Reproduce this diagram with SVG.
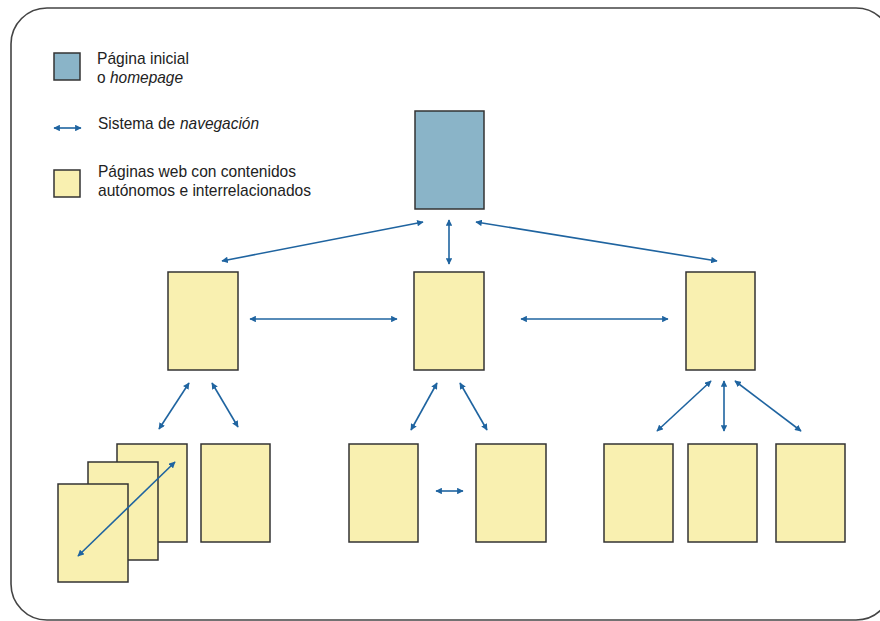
<svg xmlns="http://www.w3.org/2000/svg" width="880" height="621" viewBox="0 0 880 621">
<defs>
<marker id="ah" viewBox="0 0 10 10" refX="9" refY="5" markerWidth="7" markerHeight="6.5" orient="auto-start-reverse" markerUnits="userSpaceOnUse">
<path d="M0,0 L10,5 L0,10 z" fill="#1f64a0"/>
</marker>
<style>
.frame{fill:#ffffff;stroke:#444444;stroke-width:1.6}
.home{fill:#8ab4c8;stroke:#333333;stroke-width:1.5}
.page{fill:#f9f0b0;stroke:#333333;stroke-width:1.5}
.nav{stroke:#1f64a0;stroke-width:1.6;fill:none;marker-start:url(#ah);marker-end:url(#ah)}
.lbl{font-family:"Liberation Sans",Arial,sans-serif;font-size:17px;fill:#222222}
.it{font-style:italic}
</style>
</defs>
<rect class="frame" x="11" y="8" width="881" height="612" rx="36" ry="36"/>
<g id="legend">
<rect class="home" x="54" y="53" width="26" height="27"/>
<text class="lbl" x="97" y="64" textLength="92" lengthAdjust="spacingAndGlyphs">Página inicial</text>
<text class="lbl" x="97" y="83" textLength="8.6" lengthAdjust="spacingAndGlyphs">o</text>
<text class="lbl it" x="110" y="83" textLength="73" lengthAdjust="spacingAndGlyphs">homepage</text>
<line class="nav" x1="54" y1="128" x2="81" y2="128"/>
<text class="lbl" x="98" y="129" textLength="77" lengthAdjust="spacingAndGlyphs">Sistema de</text>
<text class="lbl it" x="180" y="129" textLength="79" lengthAdjust="spacingAndGlyphs">navegación</text>
<rect class="page" x="54" y="170" width="26" height="27"/>
<text class="lbl" x="98" y="177" textLength="198" lengthAdjust="spacingAndGlyphs">Páginas web con contenidos</text>
<text class="lbl" x="98" y="196" textLength="213" lengthAdjust="spacingAndGlyphs">autónomos e interrelacionados</text>
</g>
<g id="home"><rect class="home" x="415" y="111" width="69" height="98"/></g>
<g id="mid-left"><rect class="page" x="168" y="272" width="70" height="98"/></g>
<g id="mid-center"><rect class="page" x="414" y="272" width="70" height="98"/></g>
<g id="mid-right"><rect class="page" x="686" y="272" width="69" height="98"/></g>
<g id="stack">
<rect class="page" x="117" y="444" width="70" height="98"/>
<rect class="page" x="88" y="462" width="70" height="98"/>
<rect class="page" x="58" y="484" width="70" height="98"/>
</g>
<g id="leaf-l2"><rect class="page" x="201" y="444" width="69" height="98"/></g>
<g id="leaf-c1"><rect class="page" x="349" y="444" width="69" height="98"/></g>
<g id="leaf-c2"><rect class="page" x="476" y="444" width="70" height="98"/></g>
<g id="leaf-r1"><rect class="page" x="604" y="444" width="69" height="98"/></g>
<g id="leaf-r2"><rect class="page" x="688" y="444" width="69" height="98"/></g>
<g id="leaf-r3"><rect class="page" x="776" y="444" width="69" height="98"/></g>
<g id="connectors">
<line class="nav" x1="423" y1="222" x2="222" y2="261"/>
<line class="nav" x1="449" y1="220" x2="449" y2="264"/>
<line class="nav" x1="476" y1="222" x2="717" y2="261"/>
<line class="nav" x1="250" y1="319" x2="397" y2="319"/>
<line class="nav" x1="521" y1="319" x2="668" y2="319"/>
<line class="nav" x1="189" y1="383" x2="159" y2="429"/>
<line class="nav" x1="212" y1="383" x2="238" y2="427"/>
<line class="nav" x1="175" y1="462" x2="78" y2="556"/>
<line class="nav" x1="437" y1="383" x2="411" y2="430"/>
<line class="nav" x1="460" y1="383" x2="487" y2="430"/>
<line class="nav" x1="436" y1="491" x2="463" y2="491"/>
<line class="nav" x1="711" y1="381" x2="657" y2="431"/>
<line class="nav" x1="724" y1="381" x2="724" y2="431"/>
<line class="nav" x1="735" y1="381" x2="801" y2="431"/>
</g>
</svg>
